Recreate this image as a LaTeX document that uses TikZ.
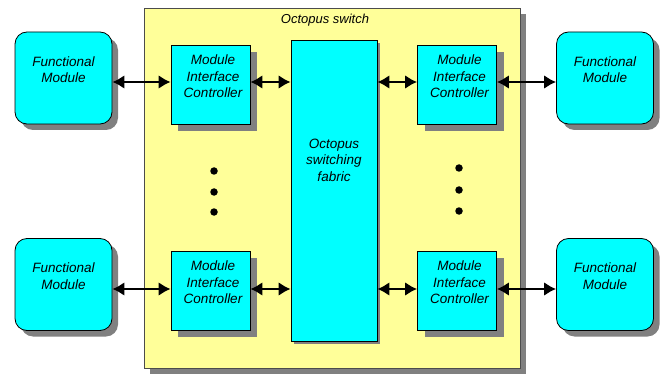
\documentclass[tikz,border=0pt]{standalone}
\usepackage{fontspec}
\setmainfont{Liberation Sans}
\usetikzlibrary{arrows.meta,shadows}
\definecolor{cy}{HTML}{00FFFF}
\definecolor{yel}{HTML}{FFFF99}
\definecolor{shd}{HTML}{808080}
\tikzset{
  shadowed/.style={drop shadow={shadow xshift=#1, shadow yshift=-#1, fill=shd, opacity=1}},
  fmbox/.style={draw=black, line width=0.8pt, fill=cy, rounded corners=12pt,
    minimum width=97pt, minimum height=92pt, inner sep=0pt, shadowed=6pt},
  micbox/.style={draw=black, line width=0.8pt, fill=cy,
    minimum width=79pt, minimum height=79pt, inner sep=0pt, shadowed=7pt},
  fabbox/.style={draw=black, line width=0.8pt, fill=cy,
    minimum width=86pt, minimum height=301pt, inner sep=0pt, shadowed=3pt},
  swbox/.style={draw=black!70, line width=0.8pt, fill=yel,
    minimum width=376pt, minimum height=360pt, inner sep=0pt, shadowed=6pt},
  lbl/.style={font=\fontsize{13.5}{16.5}\itshape\selectfont, align=center, inner sep=0pt},
  arr/.style={line width=2.8pt, {Latex[length=12pt,width=14pt]}-{Latex[length=12pt,width=14pt]}},
  dotm/.style={circle, fill=black, inner sep=0pt, minimum size=7.5pt}
}
\begin{document}
\begin{tikzpicture}[x=1pt,y=-1pt]
\useasboundingbox (0,0) rectangle (666,374);
% switch
\node[swbox] (sw) at (332,188) {};
\node[lbl, font=\fontsize{13}{15}\itshape\selectfont] (swt) at (325,20) {Octopus switch};
% fabric
\node[fabbox] (fab) at (334,190.5) {};
\node[lbl] (fabt) at (334,160) {Octopus\\switching\\fabric};
% functional modules
\node[fmbox] (fmL1) at (63.5,78) {};
\node[lbl] (fmL1t) at (63.5,69.5) {Functional\\Module};
\node[fmbox] (fmL2) at (63.5,284.5) {};
\node[lbl] (fmL2t) at (63.5,276) {Functional\\Module};
\node[fmbox] (fmR1) at (605,78) {};
\node[lbl] (fmR1t) at (605,69.5) {Functional\\Module};
\node[fmbox] (fmR2) at (605,284.5) {};
\node[lbl] (fmR2t) at (605,276) {Functional\\Module};
% MICs
\node[micbox] (micL1) at (210.5,84.5) {};
\node[lbl] (micL1t) at (213,76.5) {Module\\Interface\\Controller};
\node[micbox] (micL2) at (210.5,290.5) {};
\node[lbl] (micL2t) at (213,282.5) {Module\\Interface\\Controller};
\node[micbox] (micR1) at (457,84.5) {};
\node[lbl] (micR1t) at (459.5,76.5) {Module\\Interface\\Controller};
\node[micbox] (micR2) at (457,290.5) {};
\node[lbl] (micR2t) at (459.5,282.5) {Module\\Interface\\Controller};
% arrows
\coordinate (r1) at (0,82);
\coordinate (r2) at (0,289);
\draw[arr] (fmL1.east |- r1) -- (micL1.west |- r1);
\draw[arr] (micL1.east |- r1) -- (fab.west |- r1);
\draw[arr] (fab.east |- r1) -- (micR1.west |- r1);
\draw[arr] (micR1.east |- r1) -- (fmR1.west |- r1);
\draw[arr] (fmL2.east |- r2) -- (micL2.west |- r2);
\draw[arr] (micL2.east |- r2) -- (fab.west |- r2);
\draw[arr] (fab.east |- r2) -- (micR2.west |- r2);
\draw[arr] (micR2.east |- r2) -- (fmR2.west |- r2);
% dots
\node[dotm] (dl1) at (214,171) {};
\node[dotm] (dl2) at (214,192) {};
\node[dotm] (dl3) at (214,212) {};
\node[dotm] (dr1) at (459,168) {};
\node[dotm] (dr2) at (459,190) {};
\node[dotm] (dr3) at (459,211) {};
\end{tikzpicture}
\end{document}
